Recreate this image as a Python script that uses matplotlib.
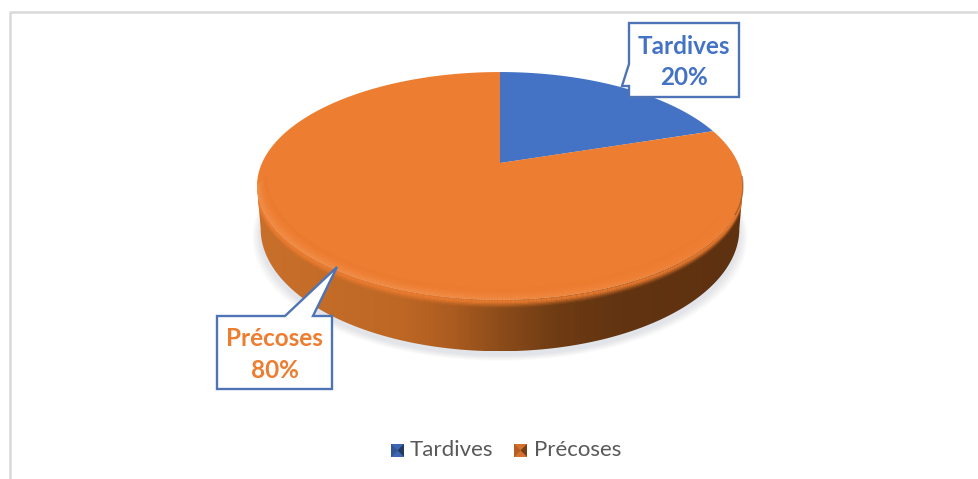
import numpy as np
import matplotlib
matplotlib.use("Agg")
import matplotlib.pyplot as plt
from matplotlib.collections import LineCollection
from matplotlib.colors import LinearSegmentedColormap, to_rgb
from matplotlib.patches import PathPatch, Polygon, Rectangle
from matplotlib.path import Path

categories = ["Tardives", "Précoses"]
values = [20, 80]
colors = ["#4472C4", "#ED7D31"]

plt.rcParams["font.family"] = ["Lato", "DejaVu Sans"]

# centre du disque et projection en perspective
cx, cy = 500, 163
sx, sy, persp = 238, 109.3, 0.2016
depth = 41


def project(theta):
    # theta en radians, 0 en haut, sens horaire
    u, v = np.sin(theta), np.cos(theta)
    w = 1 + persp * v
    return cx + sx * u / w, cy - sy * v / w, w


def callout(box, tail, text, color):
    x0, y0, x1, y1 = box
    pts = [(x0, y0)] + tail[0] + [(x1, y0), (x1, y1), (x0, y1)] if tail[1] == "top" else \
          [(x0, y0), (x1, y0), (x1, y1), (x0, y1)] + tail[0]
    ax.add_patch(Polygon(pts, closed=True, fc="white", ec="#4F74B5", lw=1.7, joinstyle="miter", zorder=8))
    ax.text((x0 + x1) / 2, (y0 + y1) / 2 + 2, text, color=color, fontsize=17.5, fontweight="bold",
            ha="center", va="center", linespacing=1.46, zorder=9)


def swatch(x, y, s, color):
    # petit carré en pointe de diamant pour la légende
    base = np.array(to_rgb(color))
    c = (x + s / 2, y + s / 2)
    corners = [(x, y), (x + s, y), (x + s, y + s), (x, y + s)]
    ax.add_patch(Rectangle((x, y), s, s, fc=base * 0.75, lw=0, zorder=5))
    for i, f in enumerate([0.9, 0.5, 0.9, 0.75]):
        ax.fill(*zip(corners[i], corners[(i + 1) % 4], c), color=base * f, lw=0, zorder=6)


def rim_band(x, y, offset, rgb, alpha, lw, clip, zorder):
    # trait le long du bord, alpha variable d'un segment à l'autre
    pts = np.c_[x, y + offset]
    segs = np.stack([pts[:-1], pts[1:]], axis=1)
    rgba = np.c_[np.tile(to_rgb(rgb), (len(segs), 1)), alpha[:-1]]
    lc = LineCollection(segs, colors=rgba, linewidths=lw, zorder=zorder)
    ax.add_collection(lc)
    lc.set_clip_path(clip)


fig = plt.figure(figsize=(9.79, 4.79), dpi=100)
ax = fig.add_axes([0, 0, 1, 1])
ax.set_xlim(0, 979)
ax.set_ylim(479, 0)
ax.axis("off")

# cadre du graphique
ax.plot([10.5, 10.5, 976], [479, 11.5, 11.5], color="#D9D9D9", lw=1.8, zorder=1)

theta = np.linspace(0, 2 * np.pi, 721)
rx, ry, rw = project(theta)
low_x, low_y = cx + (rx - cx) * 0.985, ry + depth / rw

# ombre portée sous le disque
for grow in np.linspace(14, 0, 15):
    ax.fill(cx + (low_x - cx) * (1 + grow / 400), low_y + 4 + grow * 0.4, color="#B4BEC8", alpha=0.025,
            lw=0, zorder=2)

# tranche du disque avec un dégradé horizontal
i_left, i_right = np.argmin(rx), np.argmax(rx)
front = np.arange(i_right, i_left + 1)
side_pts = np.r_[np.c_[rx[front], ry[front]], np.c_[low_x[front], low_y[front]][::-1]]
side_clip = Polygon(side_pts, closed=True, transform=ax.transData, fc="none", ec="none")
ax.add_patch(side_clip)
side_cmap = LinearSegmentedColormap.from_list(
    "tranche",
    [(0, "#C8702B"), (0.3, "#BE6725"), (0.4, "#AC5C20"), (0.5, "#8C4C1A"),
     (0.62, "#6E3B13"), (0.75, "#623411"), (1, "#5E3110")])
grad = ax.imshow(np.linspace(0, 1, 256)[None, :], cmap=side_cmap, aspect="auto",
                 extent=(rx.min(), rx.max(), low_y.max(), ry.min()), zorder=3)
grad.set_clip_path(side_clip)
ax.set_xlim(0, 979)
ax.set_ylim(479, 0)

# passage adouci entre la face et la tranche
fx, fy = rx[front], ry[front]
for k, a in zip(range(1, 7), [0.85, 0.7, 0.5, 0.32, 0.18, 0.08]):
    rim_band(fx, fy, k * 1.2, colors[1], np.full(len(fx), a), 1.6, side_clip, 3.5)

# face supérieure, une part par valeur
start = 0.0
for value, color in zip(values, colors):
    end = start + 2 * np.pi * value / sum(values)
    t = np.linspace(start, end, 361)
    px, py, _ = project(t)
    ax.fill(np.r_[cx, px], np.r_[cy, py], color=color, lw=0, zorder=4)
    start = end

# liseré clair, plus large côté gauche, et léger creux à l'intérieur
top_clip = PathPatch(Path(np.c_[rx, ry]), transform=ax.transData, fc="none", ec="none")
ax.add_patch(top_clip)
fade = np.clip((rx[front].max() - fx) / (fx.max() - fx.min()), 0, 1)
for k, a in zip(range(0, 7), [0.3, 0.28, 0.24, 0.18, 0.13, 0.08, 0.04]):
    rim_band(cx + (fx - cx) * (1 - k * 0.004), fy, -k * 1.1, "#F9A566", a * fade ** 0.6, 1.5, top_clip, 4.5)
rim_band(cx + (fx - cx) * 0.965, fy, -10, "#D96A22", 0.08 * fade, 2.5, top_clip, 4.4)

# bord droit assombri
right = (rx > 735) & (ry > 176) & (ry < 225)
ax.plot(rx[right], ry[right], color="#5E3110", alpha=0.4, lw=1.0, zorder=4.6)

# étiquettes en bulle
callout((629, 23, 739, 97), ([(629, 86), (622, 86), (629, 64)], "left"),
        f"{categories[0]}\n{values[0]}%", colors[0])
callout((217, 316, 332, 389), ([(285, 316), (337, 267), (313, 316)], "top"),
        f"{categories[1]}\n{values[1]}%", colors[1])

# légende
swatch(391, 444, 13, colors[0])
ax.text(410, 450, categories[0], color="#595959", fontsize=16, va="center", ha="left")
swatch(514, 444, 13, colors[1])
ax.text(534, 450, categories[1], color="#595959", fontsize=16, va="center", ha="left")

fig.savefig("out.png", dpi=100)
